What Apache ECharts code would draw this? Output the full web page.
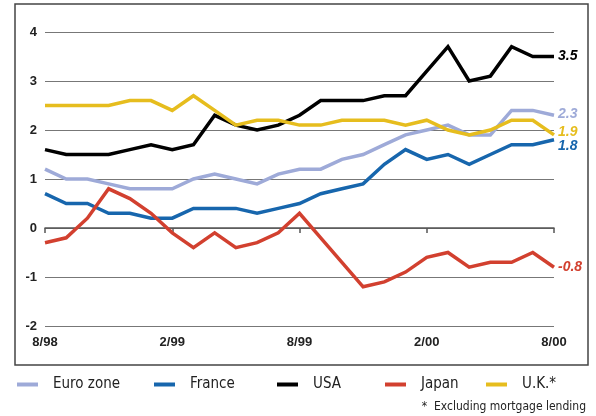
<!DOCTYPE html>
<html>
<head>
<meta charset="utf-8">
<script src="https://cdn.jsdelivr.net/npm/echarts@6/dist/echarts.min.js"></script>
<style>
  html, body { margin: 0; padding: 0; background: #fff; }
  #chart { width: 596px; height: 416px; }
</style>
</head>
<body>
<div id="chart"></div>
<script>
  // months from 8/98 to 8/00
  var months = ['8/98', '9/98', '10/98', '11/98', '12/98', '1/99', '2/99', '3/99', '4/99', '5/99', '6/99', '7/99', '8/99',
    '9/99', '10/99', '11/99', '12/99', '1/00', '2/00', '3/00', '4/00', '5/00', '6/00', '7/00', '8/00'];
  var yTicks = [-2, -1, 0, 1, 2, 3, 4];

  var euroZone = [1.2, 1.0, 1.0, 0.9, 0.8, 0.8, 0.8, 1.0, 1.1, 1.0, 0.9, 1.1, 1.2, 1.2, 1.4, 1.5, 1.7, 1.9, 2.0, 2.1, 1.9, 1.9, 2.4, 2.4, 2.3];
  var france = [0.7, 0.5, 0.5, 0.3, 0.3, 0.2, 0.2, 0.4, 0.4, 0.4, 0.3, 0.4, 0.5, 0.7, 0.8, 0.9, 1.3, 1.6, 1.4, 1.5, 1.3, 1.5, 1.7, 1.7, 1.8];
  var usa = [1.6, 1.5, 1.5, 1.5, 1.6, 1.7, 1.6, 1.7, 2.3, 2.1, 2.0, 2.1, 2.3, 2.6, 2.6, 2.6, 2.7, 2.7, 3.2, 3.7, 3.0, 3.1, 3.7, 3.5, 3.5];
  var japan = [-0.3, -0.2, 0.2, 0.8, 0.6, 0.3, -0.1, -0.4, -0.1, -0.4, -0.3, -0.1, 0.3, -0.2, -0.7, -1.2, -1.1, -0.9, -0.6, -0.5, -0.8, -0.7, -0.7, -0.5, -0.8];
  var uk = [2.5, 2.5, 2.5, 2.5, 2.6, 2.6, 2.4, 2.7, 2.4, 2.1, 2.2, 2.2, 2.1, 2.1, 2.2, 2.2, 2.2, 2.1, 2.2, 2.0, 1.9, 2.0, 2.2, 2.2, 1.9];

  var font = "'Liberation Sans', sans-serif";
  var font2 = "'DejaVu Sans Condensed', 'Liberation Sans', sans-serif";

  function makeLine(name, data, color, labelOffset) {
    return {
      name: name,
      type: 'line',
      data: data,
      symbol: 'none',
      lineStyle: { color: color, width: 3.5, cap: 'butt', join: 'miter' },
      itemStyle: { color: color },
      endLabel: {
        show: true,
        formatter: function (p) { return p.value.toFixed(1); },
        color: color,
        fontFamily: font,
        fontStyle: 'italic',
        fontWeight: 'bold',
        fontSize: 14,
        distance: 4,
        offset: [0, labelOffset]
      }
    };
  }

  function makeLegend(name, left) {
    return {
      data: [name],
      left: left,
      top: 377,
      padding: 0,
      icon: 'rect',
      itemWidth: 21,
      itemHeight: 4,
      selectedMode: false,
      textStyle: { fontFamily: font2, fontSize: 15, color: '#222', padding: [0, 0, 0, 10] }
    };
  }

  var myChart = echarts.init(document.getElementById('chart'));
  myChart.setOption({
    animation: false,
    grid: { left: 45, right: 42, top: 32, bottom: 90 },
    graphic: [
      {
        type: 'rect',
        shape: { x: 15, y: 4, width: 573, height: 361 },
        style: { fill: 'none', stroke: '#444', lineWidth: 1.5 },
        silent: true
      },
      {
        type: 'text',
        right: 10,
        top: 401,
        style: { text: '*  Excluding mortgage lending', font: '12px ' + font2, fill: '#222' }
      }
    ],
    legend: [
      makeLegend('Euro zone', 17),
      makeLegend('France', 154),
      makeLegend('USA', 277),
      makeLegend('Japan', 385),
      makeLegend('U.K.*', 486)
    ],
    xAxis: {
      type: 'category',
      data: months,
      boundaryGap: false,
      axisLine: { lineStyle: { color: '#555', width: 1.5 } },
      axisTick: { show: true, interval: 5, length: 5, lineStyle: { color: '#555', width: 1.5 } },
      axisLabel: { interval: 5, margin: 10, color: '#222', fontFamily: font, fontWeight: 'bold', fontSize: 13 },
      splitLine: { show: false }
    },
    yAxis: {
      type: 'value',
      min: yTicks[0],
      max: yTicks[yTicks.length - 1],
      interval: 1,
      axisLine: { show: false },
      axisTick: { show: false },
      axisLabel: { margin: 8, color: '#222', fontFamily: font, fontWeight: 'bold', fontSize: 13 },
      splitLine: { lineStyle: { color: '#777', width: 1 } }
    },
    series: [
      makeLine('Euro zone', euroZone, '#9eaad8', -1),
      makeLine('France', france, '#1766ad', 6),
      makeLine('USA', usa, '#000000', 0),
      makeLine('Japan', japan, '#d2402f', 0),
      makeLine('U.K.*', uk, '#e6bd1e', -3)
    ]
  });
</script>
</body>
</html>
